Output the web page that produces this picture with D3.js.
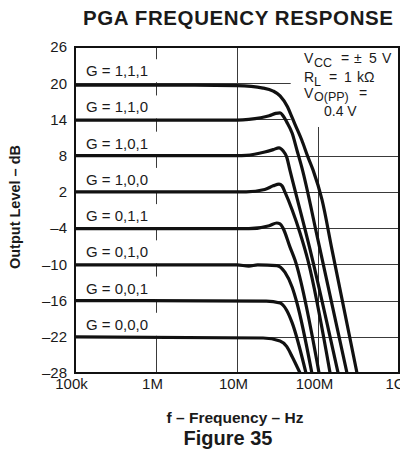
<!DOCTYPE html>
<html><head><meta charset="utf-8">
<script src="https://cdn.jsdelivr.net/npm/d3@7"></script>
<style>
body{margin:0;background:#fff}
svg{display:block}
text{font-family:Arial,"Liberation Sans",Helvetica,sans-serif;fill:#1a1a1a}
</style>
</head><body>
<svg id="chart" width="400" height="453"></svg>
<script>
// ---- data ----
const freqTicks = [1e5, 1e6, 1e7, 1e8, 1e9];
const freqTickLabels = ["100k", "1M", "10M", "100M", "1G"];
const levelTicks = [26, 20, 14, 8, 2, -4, -10, -16, -22, -28];
const gainLabels = ["G = 1,1,1", "G = 1,1,0", "G = 1,0,1", "G = 1,0,0", "G = 0,1,1", "G = 0,1,0", "G = 0,0,1", "G = 0,0,0"];
const gainLevels = [20, 14, 8, 2, -4, -10, -16, -22];

// [frequency Hz, output level dB]
const curve111 = [[1e5,19.7],[3e6,19.7],[1e7,19.6],[2.1e7,19.2],[2.8e7,18.7],[3.4e7,17.9],[4.2e7,16.1],[4.7e7,14.6],[5.2e7,13.2],[6.3e7,10.6],[7.5e7,7.8],[8.7e7,5.6],[1.12e8,0.7],[1.49e8,-7.6],[3.03e8,-28]];
const curve110 = [[1e5,13.9],[1e7,13.9],[1.4e7,14.0],[2.5e7,14.6],[3.0e7,15.0],[3.4e7,15.1],[3.7e7,14.6],[4.1e7,13.6],[4.8e7,11.7],[5.5e7,8.9],[6.3e7,6.1],[1.0e8,-6.0],[2.28e8,-28]];
const curve101 = [[1e5,8.0],[1e7,8.0],[1.3e7,8.05],[2.2e7,8.6],[2.8e7,9.0],[3.3e7,9.3],[3.7e7,8.8],[4.1e7,7.8],[4.5e7,5.6],[8.0e7,-7.6],[1.77e8,-28]];
const curve100 = [[1e5,2.0],[1.3e7,2.0],[2.2e7,2.4],[2.8e7,3.0],[3.3e7,3.3],[3.6e7,3.0],[3.9e7,2.0],[4.8e7,-1.0],[6.0e7,-4.8],[7.5e7,-9.3],[1.41e8,-28]];
const curve011 = [[1e5,-4.1],[1.4e7,-4.1],[2.5e7,-3.6],[3.1e7,-3.15],[3.4e7,-3.3],[3.7e7,-4.0],[4.5e7,-7.1],[5.2e7,-9.3],[1.03e8,-28]];
const curve010 = [[1e5,-10.1],[1e7,-10.1],[1.4e7,-10.3],[1.8e7,-10.1],[3.1e7,-10.2],[3.9e7,-11.3],[4.8e7,-13.8],[5.5e7,-16.4],[8.4e7,-28]];
const curve001 = [[1e5,-16.0],[2.3e7,-16.1],[3.4e7,-16.4],[4.1e7,-17.6],[4.8e7,-19.7],[7.1e7,-28]];
const curve000 = [[1e5,-22.0],[2.1e7,-22.2],[3.4e7,-22.7],[4.1e7,-23.6],[4.8e7,-25.3],[6.0e7,-28]];
const curves = [curve111, curve110, curve101, curve100, curve011, curve010, curve001, curve000];

// ---- chart ----
const svg = d3.select("#chart");
const x = d3.scaleLog().domain([1e5, 1e9]).range([75, 399]);
const y = d3.scaleLinear().domain([-28, 26]).range([373, 47]);
const [x0, x1] = x.range();
const [yb, yt] = y.range();

svg.append("defs").append("clipPath").attr("id", "plotclip")
  .append("rect").attr("x", x0).attr("y", yt).attr("width", x1 - x0).attr("height", yb - yt);

// grid
const grid = svg.append("g").attr("stroke", "#3a3a3a").attr("stroke-width", 1);
grid.selectAll("line.v").data(freqTicks.slice(1, -1)).join("line")
  .attr("x1", d => Math.round(x(d)) + 0.5).attr("x2", d => Math.round(x(d)) + 0.5)
  .attr("y1", yt).attr("y2", yb);
grid.selectAll("line.h").data(levelTicks.slice(1, -1)).join("line")
  .attr("x1", x0).attr("x2", x1)
  .attr("y1", d => Math.round(y(d)) + 0.5).attr("y2", d => Math.round(y(d)) + 0.5);

// white label boxes covering grid
svg.append("g").selectAll("rect").data(gainLevels).join("rect")
  .attr("x", x0 + 1).attr("y", d => y(d) - 24).attr("width", 103).attr("height", 23)
  .attr("fill", "#fff");
// annotation box
svg.append("rect").attr("x", x(4.6e7)).attr("y", yt + 1)
  .attr("width", x1 - x(4.6e7) - 1).attr("height", y(12.75) - yt - 1).attr("fill", "#fff");

// curves
const line = d3.line().x(d => x(d[0])).y(d => y(d[1])).curve(d3.curveMonotoneX);
svg.append("g").attr("clip-path", "url(#plotclip)")
  .selectAll("path").data(curves).join("path")
  .attr("d", line).attr("fill", "none").attr("stroke", "#111")
  .attr("stroke-width", 3.2).attr("stroke-linejoin", "round");

// frame
svg.append("rect").attr("x", x0).attr("y", yt).attr("width", x1 - x0).attr("height", yb - yt)
  .attr("fill", "none").attr("stroke", "#111").attr("stroke-width", 2);

// y axis
const yAxis = d3.axisLeft(y).tickValues(levelTicks).tickSize(0).tickPadding(8)
  .tickFormat(d => d < 0 ? "\u2013" + (-d) : String(d));
const yg = svg.append("g").attr("transform", `translate(${x0},0)`).call(yAxis);
yg.select(".domain").remove();
yg.selectAll("text").attr("font-size", 15).attr("font-family", "Arial, 'Liberation Sans', sans-serif").attr("fill", "#1a1a1a");

// x axis
const xAxis = d3.axisBottom(x).tickValues(freqTicks).tickSize(0).tickPadding(16)
  .tickFormat((d, i) => freqTickLabels[i]);
const xg = svg.append("g").attr("transform", `translate(0,${yb})`).call(xAxis);
xg.select(".domain").remove();
xg.selectAll("text").attr("font-size", 15).attr("y", 16).attr("dy", 0).attr("dx", -4)
  .attr("font-family", "Arial, 'Liberation Sans', sans-serif").attr("fill", "#1a1a1a");

// gain labels
svg.append("g").selectAll("text").data(gainLabels).join("text")
  .attr("x", x0 + 11).attr("y", (d, i) => y(gainLevels[i]) - 7)
  .attr("font-size", 15).text(d => d);

// annotation
const ann = svg.append("g").attr("font-size", 14);
function piece(txt, px, py, size) {
  ann.append("text").attr("x", px).attr("y", py).attr("font-size", size || 14).text(txt);
}
piece("V", 304, 63); piece("CC", 314, 67, 12.5); piece("=", 341, 63); piece("\u00b1", 354, 63); piece("5", 369, 63); piece("V", 382, 63);
piece("R", 304, 82); piece("L", 314, 86, 12.5); piece("=", 329, 82); piece("1", 344, 82); piece("k\u03a9", 357, 82);
piece("V", 304, 98); piece("O(PP)", 314, 101, 12.5); piece("=", 359, 98);
piece("0.4 V", 324, 116);

// titles
svg.append("text").attr("x", 238).attr("y", 25).attr("text-anchor", "middle")
  .attr("font-size", 20.5).attr("font-weight", "bold").attr("textLength", 310).attr("lengthAdjust", "spacing")
  .text("PGA FREQUENCY RESPONSE");
svg.append("text").attr("transform", `translate(20,${(yt + yb) / 2 - 3}) rotate(-90)`)
  .attr("text-anchor", "middle").attr("font-size", 14.5).attr("font-weight", "bold")
  .text("Output Level \u2013 dB");
svg.append("text").attr("x", 235).attr("y", 423).attr("text-anchor", "middle")
  .attr("font-size", 15.5).attr("font-weight", "bold").text("f \u2013 Frequency \u2013 Hz");
svg.append("text").attr("x", 228).attr("y", 445).attr("text-anchor", "middle")
  .attr("font-size", 20).attr("font-weight", "bold").text("Figure 35");
</script>
</body></html>
